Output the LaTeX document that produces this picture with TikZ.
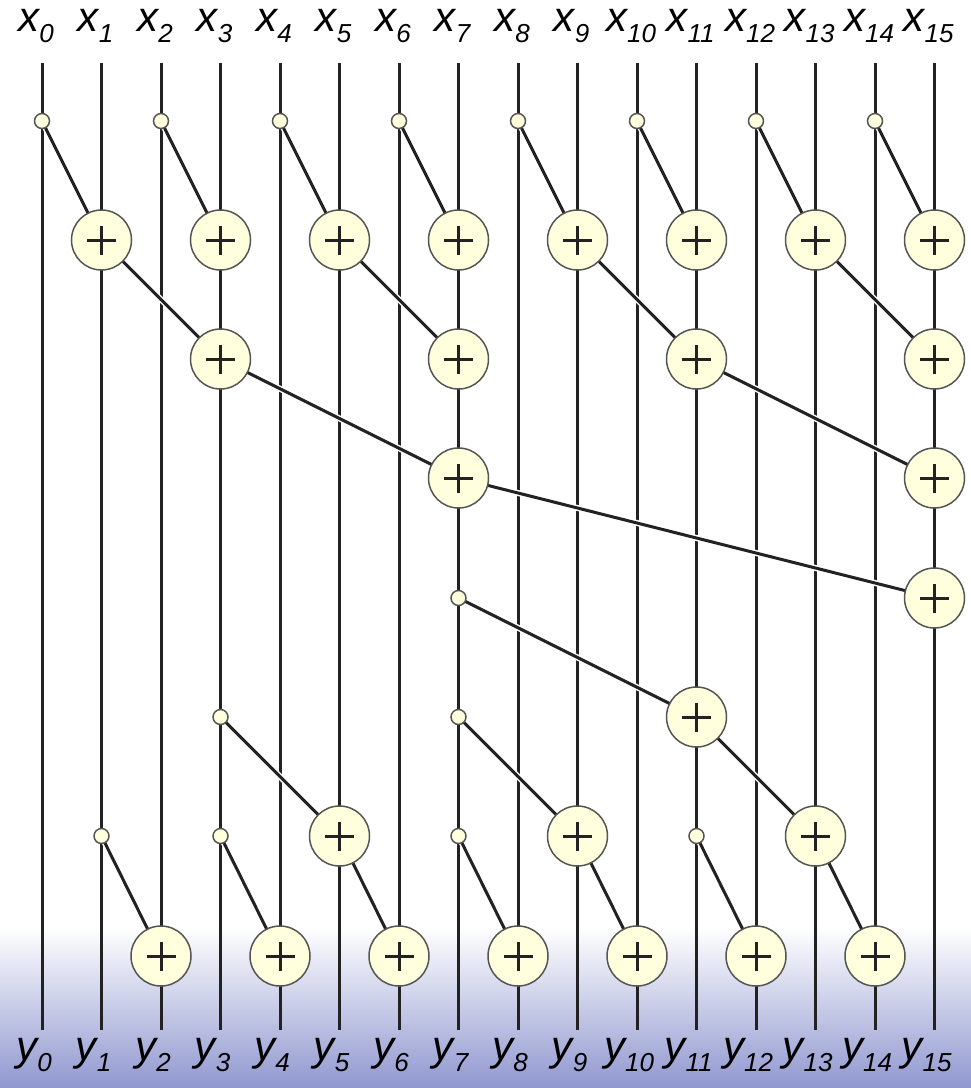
\documentclass[tikz,border=0pt]{standalone}
\usepackage{fontspec}
\setmainfont{Liberation Sans}
\usepackage{tikz}
\pgfdeclarelayer{background}
\pgfsetlayers{background,main}
\definecolor{nodefill}{HTML}{FFFFDD}
\definecolor{nodeline}{HTML}{555555}
\definecolor{wire}{HTML}{222222}
\definecolor{shadeblue}{HTML}{9097CF}
\newcommand{\sublbl}[2]{\textit{\fontsize{42}{42}\selectfont #1\raisebox{-11.5pt}{\fontsize{26}{26}\selectfont #2}}}

\begin{document}
\begin{tikzpicture}
        [x=1pt,y=-1pt,
         dot/.style={circle,fill=nodefill,draw=nodeline,line width=1.5pt,minimum size=15pt,inner sep=0pt},
         plus/.style={circle,fill=nodefill,draw=nodeline,line width=1.5pt,minimum size=60pt,inner sep=0pt,
                      path picture={\draw[wire,line width=3pt]
                          ([xshift=-14.5pt]path picture bounding box.center) -- ([xshift=14.5pt]path picture bounding box.center)
                          ([yshift=-14.5pt]path picture bounding box.center) -- ([yshift=14.5pt]path picture bounding box.center);}},
         wirel/.style={draw=wire,line width=3pt},
         cross/.style={draw=wire,line width=3pt,preaction={draw=white,line width=6pt}}]
        \useasboundingbox (0,0) rectangle (971,1088);

        % labels and wire ends
        \foreach \i in {0,...,15} {
            \node[anchor=base] (x\i) at (\i*59.5+36,31) {\sublbl{x}{\i}};
            \node[anchor=base] (y\i) at (\i*59.5+34,1060) {\sublbl{y}{\i}};
            \coordinate (t\i) at (\i*59.5+42,63);
            \coordinate (b\i) at (\i*59.5+42,1030);
        }

        % first level
        \foreach \i in {0,2,...,14} \node[dot] (d0-\i) at (\i*59.5+42,121) {};
        \foreach \i in {1,3,...,15} \node[plus] (p1-\i) at (\i*59.5+42,240) {};
        \foreach \i in {3,7,11,15} \node[plus] (p2-\i) at (\i*59.5+42,359) {};
        \foreach \i in {7,15} \node[plus] (p3-\i) at (\i*59.5+42,478) {};
        \node[plus] (p4-15) at (15*59.5+42,598) {};

        % second level
        \node[dot] (d4-7) at (7*59.5+42,598) {};
        \node[plus] (p5-11) at (11*59.5+42,717) {};
        \foreach \i in {3,7} \node[dot] (d5-\i) at (\i*59.5+42,717) {};
        \foreach \i in {5,9,13} \node[plus] (p6-\i) at (\i*59.5+42,836) {};
        \foreach \i in {1,3,7,11} \node[dot] (d6-\i) at (\i*59.5+42,836) {};
        \foreach \i in {2,4,...,14} \node[plus] (p7-\i) at (\i*59.5+42,956) {};

        \begin{pgfonlayer}{background}
        \shade[top color=white,bottom color=shadeblue] (0,927) rectangle (971,1088);
        \foreach \i in {0,...,15} \path[wirel] (t\i) -- (b\i);

        \foreach \i [evaluate=\i as \j using int(\i+1)] in {0,2,...,14}
            \path[cross] (d0-\i.center) -- (p1-\j.center);
        \path[cross] (p1-1.center) -- (p2-3.center);
        \path[cross] (p1-5.center) -- (p2-7.center);
        \path[cross] (p1-9.center) -- (p2-11.center);
        \path[cross] (p1-13.center) -- (p2-15.center);
        \path[cross] (p2-3.center) -- (p3-7.center);
        \path[cross] (p2-11.center) -- (p3-15.center);
        \path[cross] (p3-7.center) -- (p4-15.center);

        \path[cross] (d4-7.center) -- (p5-11.center);
        \path[cross] (d5-3.center) -- (p6-5.center);
        \path[cross] (d5-7.center) -- (p6-9.center);
        \path[cross] (p5-11.center) -- (p6-13.center);
        \path[cross] (d6-1.center) -- (p7-2.center);
        \path[cross] (d6-3.center) -- (p7-4.center);
        \path[cross] (p6-5.center) -- (p7-6.center);
        \path[cross] (d6-7.center) -- (p7-8.center);
        \path[cross] (p6-9.center) -- (p7-10.center);
        \path[cross] (d6-11.center) -- (p7-12.center);
        \path[cross] (p6-13.center) -- (p7-14.center);
        \end{pgfonlayer}

    \end{tikzpicture}
\end{document}
